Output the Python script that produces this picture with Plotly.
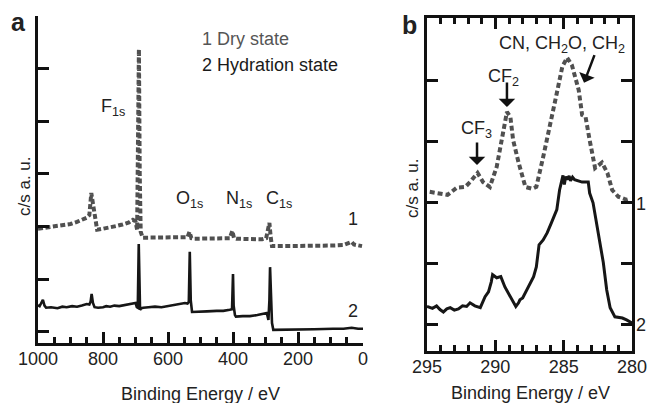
import plotly.graph_objects as go

# ---------------- data: panel a (survey) ----------------
a_dry_E = [1000, 960, 920, 900, 880, 860, 850, 842, 836, 830, 824, 818, 800, 780, 760,
           740, 720, 708, 700, 695, 690.5, 689.5, 687, 684, 678, 650, 600, 560, 540, 534,
           528, 520, 480, 440, 410, 402, 397, 390, 350, 310, 298, 292, 288, 284, 280,
           250, 200, 150, 100, 60, 35, 28, 10, 3]
a_dry_I = [1.96, 1.99, 2.02, 2.05, 2.09, 2.13, 2.17, 2.22, 2.64, 2.40, 2.10, 1.94, 1.96, 1.98, 2.01,
           2.04, 2.08, 2.13, 2.10, 1.94, 3.90, 5.37, 3.00, 1.90, 1.79, 1.79, 1.79, 1.79, 1.80, 1.90,
           1.78, 1.77, 1.77, 1.77, 1.78, 1.92, 1.78, 1.77, 1.77, 1.76, 1.78, 1.93, 2.07, 1.80, 1.63,
           1.63, 1.63, 1.63, 1.64, 1.65, 1.71, 1.66, 1.63, 1.63]

a_hyd_E = [1000, 995, 990, 985, 980, 975, 960, 940, 925, 912, 895, 880, 865, 850, 842, 838, 835,
           831, 826, 815, 800, 790, 778, 765, 750, 735, 720, 708, 700, 696, 693, 690, 688, 686,
           682, 676, 660, 640, 620, 600, 580, 560, 548, 540, 536, 533, 530, 526, 520, 500,
           480, 450, 430, 410, 403, 400, 398, 394, 391, 370, 348, 325, 305, 296, 291, 288,
           286, 283, 280, 276, 250, 194, 150, 92, 60, 35, 15, 0]
a_hyd_I = [0.51, 0.49, 0.55, 0.61, 0.50, 0.46, 0.47, 0.45, 0.48, 0.47, 0.49, 0.48, 0.50, 0.53, 0.52,
           0.58, 0.72, 0.55, 0.47, 0.46, 0.47, 0.49, 0.48, 0.50, 0.49, 0.51, 0.52, 0.54, 0.55, 0.47,
           0.46, 1.67, 1.00, 0.42, 0.45, 0.46, 0.47, 0.48, 0.47, 0.49, 0.51, 0.53, 0.55, 0.54,
           0.57, 1.52, 0.60, 0.38, 0.38, 0.38, 0.39, 0.40, 0.40, 0.42, 0.43, 1.10, 0.50, 0.32,
           0.29, 0.30, 0.30, 0.32, 0.35, 0.36, 0.23, 0.60, 1.23, 0.50, 0.17, 0.04, 0.04, 0.04,
           0.05, 0.06, 0.06, 0.08, 0.06, 0.06]

a_xticks = [1000, 800, 600, 400, 200, 0]
a_yticks = [0, 1, 2, 3, 4, 5, 6]

# ---------------- data: panel b (C1s) ----------------
b_dry_E = [294.8, 294.05, 293.5, 292.8, 292.2, 291.85, 291.3, 290.9, 290.4, 289.9, 289.5,
           289.15, 288.9, 288.7, 288.3, 287.8, 287.3, 287.0, 286.5, 286.0, 285.5, 285.1,
           284.75, 284.4, 284.2, 283.9, 283.65, 283.4, 283.1, 282.7, 282.2, 281.8, 281.45,
           281.0, 280.4, 280.1]
b_dry_I = [2.18, 2.16, 2.13, 2.25, 2.26, 2.34, 2.49, 2.34, 2.26, 2.59, 3.03,
           3.49, 3.41, 3.03, 2.66, 2.26, 2.23, 2.26, 2.75, 3.25, 3.80, 4.23,
           4.38, 4.26, 4.07, 3.85, 3.44, 3.41, 3.03, 2.57, 2.66, 2.49, 2.21,
           2.10, 2.05, 2.07]

b_hyd_E = [295.0, 294.6, 294.3, 294.05, 293.8, 293.55, 293.3, 293.0, 292.7, 292.4, 292.1,
           291.85, 291.5, 291.1, 290.75, 290.5, 290.3, 290.2, 289.9, 289.6, 289.3, 288.9,
           288.5, 288.3, 288.2, 288.0, 287.6, 287.2, 287.0, 286.8, 286.5, 286.2, 285.9,
           285.5, 285.3, 285.15, 285.05, 284.95, 284.85, 284.75, 284.6, 284.5, 284.35,
           284.2, 283.9, 283.65, 283.2, 283.1, 282.85, 282.5, 282.1, 281.85, 281.6,
           281.25, 280.9, 280.7, 280.4, 280.0]
b_hyd_I = [0.30, 0.27, 0.31, 0.25, 0.21, 0.26, 0.28, 0.24, 0.26, 0.31, 0.30,
           0.36, 0.31, 0.28, 0.46, 0.54, 0.70, 0.82, 0.77, 0.79, 0.62, 0.46,
           0.30, 0.36, 0.41, 0.44, 0.61, 0.79, 0.95, 1.31, 1.39, 1.51, 1.67,
           1.89, 2.21, 2.34, 2.45, 2.30, 2.43, 2.38, 2.44, 2.36, 2.42,
           2.38, 2.36, 2.34, 2.34, 2.16, 2.00, 1.51, 1.02, 0.57, 0.28,
           0.13, 0.12, 0.11, 0.08, 0.03]

b_xticks = [295, 290, 285, 280]
b_yticks = [0, 1, 2, 3, 4]

# ---------------- styling ----------------
W, H = 648, 403
FONT = "Liberation Sans, Arial, Helvetica, sans-serif"
TXT = "#222222"
DRY_COL = "#505050"
HYD_COL = "#161616"


def px(x):
    return x / W


def py(y):
    return 1 - y / H


fig = go.Figure()
fig.add_trace(go.Scatter(x=a_dry_E, y=a_dry_I, mode="lines", xaxis="x", yaxis="y",
                         line=dict(color=DRY_COL, width=4, dash="5px,2.5px"), showlegend=False))
fig.add_trace(go.Scatter(x=a_hyd_E, y=a_hyd_I, mode="lines", xaxis="x", yaxis="y",
                         line=dict(color=HYD_COL, width=2.6), showlegend=False))
fig.add_trace(go.Scatter(x=b_dry_E, y=b_dry_I, mode="lines", xaxis="x2", yaxis="y2",
                         line=dict(color=DRY_COL, width=4, dash="5px,3px"), showlegend=False))
fig.add_trace(go.Scatter(x=b_hyd_E, y=b_hyd_I, mode="lines", xaxis="x2", yaxis="y2",
                         line=dict(color=HYD_COL, width=3), showlegend=False))

axis_common = dict(showgrid=False, zeroline=False, linecolor="#111111", linewidth=3,
                   ticks="inside", tickcolor="#111111", tickwidth=3, automargin=False,
                   tickfont=dict(family=FONT, size=18, color=TXT))

fig.update_layout(
    width=W, height=H, autosize=False,
    margin=dict(l=0, r=0, t=0, b=0),
    paper_bgcolor="white", plot_bgcolor="white",
    font=dict(family=FONT, size=18, color=TXT),
    xaxis=dict(domain=[px(38), px(363)], anchor="y", range=[1000, 0],
               tickvals=a_xticks, ticklen=11, ticklabelstandoff=-3,
               minor=dict(ticks="inside", dtick=50, ticklen=6, tickwidth=2.5, tickcolor="#111111"),
               **axis_common),
    yaxis=dict(domain=[py(343), py(16)], anchor="x", range=[-0.21, 6.0],
               tickvals=a_yticks, ticklen=11, showticklabels=False, **axis_common),
    xaxis2=dict(domain=[px(427), px(632)], anchor="y2", range=[295, 280],
                tickvals=b_xticks, ticklen=11, mirror="ticks", ticklabelstandoff=-3,
                minor=dict(ticks="inside", dtick=1, ticklen=6, tickwidth=2.5, tickcolor="#111111"),
                **axis_common),
    yaxis2=dict(domain=[py(351), py(18)], anchor="x2", range=[-0.43, 5.03],
                tickvals=b_yticks, ticklen=11, mirror="ticks", showticklabels=False,
                **axis_common),
)

ann = []


def text(x, y, s, size=18, color=TXT, bold=False, angle=0, xanchor="center"):
    ann.append(dict(x=px(x), y=py(y), xref="paper", yref="paper", text=("<b>%s</b>" % s) if bold else s,
                    showarrow=False, xanchor=xanchor, yanchor="middle", textangle=angle,
                    font=dict(family=FONT, size=size, color=color)))


# panel letters
text(18, 22, "a", size=25, bold=True)
text(409, 25, "b", size=25, bold=True)
# axis titles
text(24, 186, "c/s a. u.", angle=-90, size=17)
text(413, 188, "c/s a. u.", angle=-90, size=17)
text(200, 394, "Binding Energy / eV")
text(530, 393, "Binding Energy / eV")
# legend texts
text(200, 39, "1 Dry state", color="#555555", xanchor="left")
text(200, 65, "2 Hydration state", color="#1a1a1a", xanchor="left")
# peak labels panel a
text(113, 108, "F<sub>1s</sub>")
text(189, 199, "O<sub>1s</sub>")
text(239, 199, "N<sub>1s</sub>")
text(279, 199, "C<sub>1s</sub>")
text(353, 219, "1")
text(353, 311, "2")
# panel b labels
text(476, 130, "CF<sub>3</sub>")
text(503, 77, "CF<sub>2</sub>")
text(562, 44, "CN, CH<sub>2</sub>O, CH<sub>2</sub>")
text(641, 204, "1")
text(641, 325, "2")

# arrows panel b
for (E, I, axp, ayp) in [(291.34, 2.62, 0, -24), (289.15, 3.57, 0, -26), (283.51, 3.97, 11, -29)]:
    ann.append(dict(x=E, y=I, xref="x2", yref="y2", ax=axp, ay=ayp, text="",
                    showarrow=True, arrowhead=1, arrowsize=1.1, arrowwidth=2.5,
                    arrowcolor="#111111", standoff=0, startstandoff=0))

fig.update_layout(annotations=ann)
fig.write_html("out.html")
